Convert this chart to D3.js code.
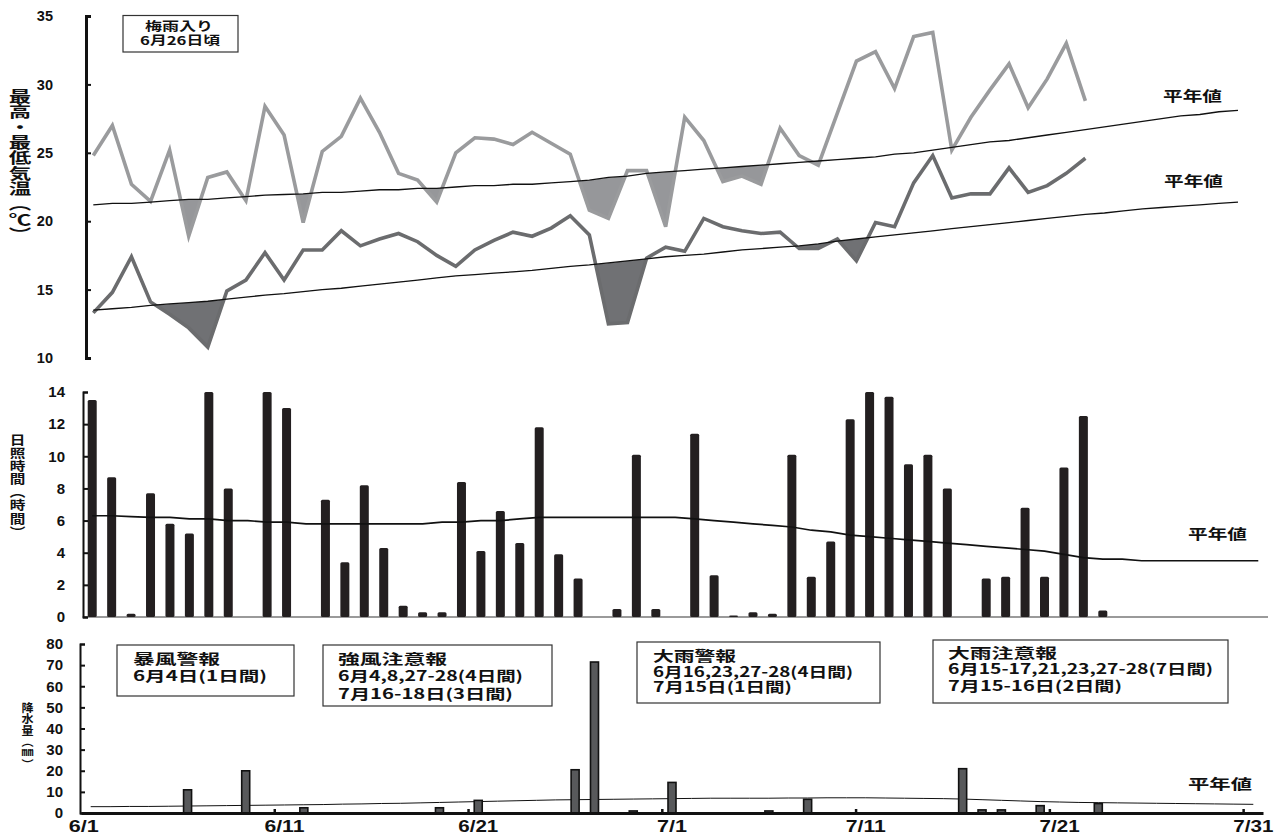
<!DOCTYPE html>
<html>
<head>
<meta charset="utf-8">
<script src="https://cdn.jsdelivr.net/npm/d3@7"></script>
<style>
  body { margin: 0; background: #fff; }
  svg { display: block; }
</style>
</head>
<body>
<svg id="chart" width="1283" height="836"></svg>
<script>
// ---- data -------------------------------------------------------------
// 6/1 .. 7/31 (61 days)
const days = [
  ...d3.range(1, 31).map(d => "6/" + d),
  ...d3.range(1, 32).map(d => "7/" + d)
];
const xTickLabels = ["6/1", "6/11", "6/21", "7/1", "7/11", "7/21", "7/31"];

// daily maximum temperature (°C), observed through 7/23
const maxTemp = [
  24.8, 27.0, 22.7, 21.45, 25.2, 18.9, 23.2, 23.6, 21.5, 28.4,
  26.3, 19.9, 25.1, 26.2, 29.0, 26.5, 23.5, 23.0, 21.4, 25.0,
  26.1, 26.0, 25.6, 26.5, 25.7, 24.9, 20.8, 20.2, 23.7, 23.7,
  19.6, 27.6, 25.9, 22.9, 23.3, 22.7, 26.8, 24.8, 24.1, 27.9,
  31.7, 32.4, 29.7, 33.5, 33.8, 25.2, 27.6, 29.6, 31.5, 28.3,
  30.4, 33.0, 28.8
];
// daily minimum temperature (°C)
const minTemp = [
  13.3, 14.8, 17.4, 14.1, 13.2, 12.2, 10.8, 14.9, 15.7, 17.7,
  15.7, 17.9, 17.9, 19.3, 18.2, 18.7, 19.1, 18.5, 17.5, 16.7,
  17.9, 18.6, 19.2, 18.9, 19.5, 20.4, 19.0, 12.5, 12.6, 17.3,
  18.1, 17.8, 20.2, 19.6, 19.3, 19.1, 19.2, 18.0, 18.0, 18.7,
  17.1, 19.9, 19.6, 22.8, 24.8, 21.7, 22.0, 22.0, 23.9, 22.1,
  22.6, 23.5, 24.6
];
// normal maximum / minimum temperature (°C)
const maxNormal = [
  21.2, 21.3, 21.3, 21.4, 21.5, 21.6, 21.6, 21.7, 21.8, 21.9,
  21.95, 22.0, 22.1, 22.1, 22.2, 22.3, 22.3, 22.4, 22.4, 22.5,
  22.6, 22.6, 22.7, 22.7, 22.8, 22.9, 23.0, 23.2, 23.3, 23.5,
  23.6, 23.7, 23.8, 23.9, 24.0, 24.1, 24.2, 24.3, 24.4, 24.5,
  24.6, 24.7, 24.9, 25.0, 25.2, 25.4, 25.6, 25.8, 25.9, 26.1,
  26.3, 26.5, 26.7, 26.9, 27.1, 27.3, 27.5, 27.7, 27.8, 28.0, 28.1
];
const minNormal = [
  13.5, 13.6, 13.7, 13.85, 13.95, 14.05, 14.15, 14.3, 14.45, 14.6,
  14.7, 14.85, 15.0, 15.1, 15.25, 15.4, 15.55, 15.7, 15.85, 16.0,
  16.1, 16.2, 16.3, 16.4, 16.55, 16.7, 16.8, 16.95, 17.1, 17.25,
  17.4, 17.5, 17.6, 17.75, 17.9, 18.0, 18.1, 18.2, 18.35, 18.55,
  18.7, 18.85, 19.0, 19.15, 19.3, 19.45, 19.6, 19.75, 19.9, 20.05,
  20.2, 20.35, 20.5, 20.6, 20.75, 20.9, 21.0, 21.1, 21.2, 21.3, 21.4
];

// daily sunshine duration (hours)
const sunshine = [
  13.5, 8.7, 0.2, 7.7, 5.8, 5.2, 14.0, 8.0, 0, 14.0,
  13.0, 0, 7.3, 3.4, 8.2, 4.3, 0.7, 0.3, 0.3, 8.4,
  4.1, 6.6, 4.6, 11.8, 3.9, 2.4, 0, 0.5, 10.1, 0.5,
  0, 11.4, 2.6, 0.1, 0.3, 0.2, 10.1, 2.5, 4.7, 12.3,
  14.0, 13.7, 9.5, 10.1, 8.0, 0, 2.4, 2.5, 6.8, 2.5,
  9.3, 12.5, 0.4
];
const sunshineNormal = [
  6.3, 6.3, 6.25, 6.2, 6.2, 6.1, 6.1, 6.0, 6.0, 5.9,
  5.9, 5.8, 5.8, 5.8, 5.8, 5.8, 5.8, 5.8, 5.9, 5.9,
  6.0, 6.0, 6.1, 6.2, 6.2, 6.2, 6.2, 6.2, 6.2, 6.2,
  6.2, 6.1, 6.0, 5.9, 5.8, 5.7, 5.6, 5.4, 5.3, 5.1,
  5.0, 4.9, 4.8, 4.7, 4.6, 4.5, 4.4, 4.3, 4.2, 4.1,
  3.9, 3.7, 3.6, 3.6, 3.5, 3.5, 3.5, 3.5, 3.5, 3.5, 3.5
];

// daily precipitation (mm)
const precip = [
  0, 0, 0, 0, 0, 10.5, 0, 0, 19.5, 0,
  0, 2.0, 0, 0, 0, 0, 0, 0, 2.0, 0,
  5.5, 0, 0, 0, 0, 20.0, 71.0, 0, 0.5, 0,
  14.0, 0, 0, 0, 0, 0.5, 0, 6.0, 0, 0,
  0, 0, 0, 0, 0, 20.5, 1.0, 1.0, 0, 3.0,
  0, 0, 4.0
];
const precipNormal = [
  3.0, 3.0, 3.1, 3.1, 3.2, 3.3, 3.4, 3.5, 3.6, 3.7,
  3.8, 3.9, 4.0, 4.2, 4.3, 4.5, 4.6, 4.8, 5.0, 5.2,
  5.4, 5.6, 5.8, 6.0, 6.2, 6.3, 6.4, 6.5, 6.6, 6.7,
  6.8, 6.9, 7.0, 7.0, 7.0, 7.0, 7.1, 7.1, 7.2, 7.2,
  7.2, 7.1, 7.0, 6.9, 6.8, 6.6, 6.3, 6.0, 5.7, 5.4,
  5.2, 5.0, 4.9, 4.8, 4.7, 4.6, 4.5, 4.4, 4.3, 4.2, 4.1
];

// weather warnings / advisories shown in the lower panel
const notices = [
  { title: "暴風警報", lines: ["6月4日(1日間)"] },
  { title: "強風注意報", lines: ["6月4,8,27-28(4日間)", "7月16-18日(3日間)"] },
  { title: "大雨警報", lines: ["6月16,23,27-28(4日間)", "7月15日(1日間)"] },
  { title: "大雨注意報", lines: ["6月15-17,21,23,27-28(7日間)", "7月15-16日(2日間)"] }
];
const rainySeason = ["梅雨入り", "6月26日頃"];

// ---- setup ------------------------------------------------------------
const JP = "'Noto Sans CJK JP', 'Noto Sans', sans-serif";
const NUM = "'Liberation Sans', Arial, sans-serif";
const svg = d3.select("#chart");
const idx = d3.range(days.length);

const xT = d3.scalePoint().domain(days).range([93.3, 1238]);
const yT = d3.scaleLinear().domain([10, 35]).range([358, 16]);
const xS = d3.scaleBand().domain(days).range([82.5, 1268]);
const yS = d3.scaleLinear().domain([0, 14]).range([617, 392]);
const xP = d3.scaleBand().domain(days).range([81, 1263]);
const yP = d3.scaleLinear().domain([0, 80]).range([813, 644]);

// single line of text with a fixed width (glyphs stretched horizontally)
function fitText(g, str, x, y, size, width) {
  return g.append("text")
    .attr("x", x).attr("y", y)
    .attr("font-family", JP).attr("font-weight", "bold")
    .attr("font-size", size).attr("fill", "#111")
    .attr("textLength", width).attr("lengthAdjust", "spacingAndGlyphs")
    .text(str);
}

// multi-line block: one text element, one tspan per line
function textBlock(g, lines, xs, ys, size, widths) {
  const t = g.append("text")
    .attr("font-family", JP).attr("font-weight", "bold")
    .attr("font-size", size).attr("fill", "#111");
  lines.forEach((s, j) => {
    t.append("tspan")
      .attr("x", Array.isArray(xs) ? xs[j] : xs).attr("y", ys[j])
      .attr("textLength", widths[j]).attr("lengthAdjust", "spacingAndGlyphs")
      .text(s);
  });
  return t;
}

// vertical axis title set in vertical writing mode, glyphs widened by sx
function verticalTitle(str, cx, top, size, spacing, sx) {
  svg.append("text")
    .attr("transform", `translate(${cx},${top}) scale(${sx},1)`)
    .style("writing-mode", "vertical-rl")
    .style("letter-spacing", spacing + "px")
    .attr("font-family", JP).attr("font-weight", "bold")
    .attr("font-size", size).attr("fill", "#111")
    .text(str);
}

function styleAxis(g, domainWidth, tickWidth, fontSize) {
  g.select(".domain").attr("stroke", "#111").attr("stroke-width", domainWidth);
  g.selectAll(".tick line").attr("stroke", "#111").attr("stroke-width", tickWidth);
  g.selectAll(".tick text")
    .attr("font-family", NUM).attr("font-weight", "bold")
    .attr("font-size", fontSize).attr("fill", "#111");
}

// ---- panel 1: max / min temperature -----------------------------------
const tempPanel = svg.append("g");
const defs = svg.append("defs");

// region below a normal curve; used to keep only the below-normal shading
function belowNormalClip(id, normal) {
  defs.append("clipPath").attr("id", id).append("path")
    .attr("d", d3.area()
      .x(i => xT(days[i]))
      .y0(yT(0))
      .y1(i => yT(normal[i]))(idx));
}
belowNormalClip("clip-max", maxNormal);
belowNormalClip("clip-min", minNormal);

function tempSeries(values, normal, color, fillColor, clipId) {
  const defined = i => i < values.length && values[i] != null;
  tempPanel.append("path")
    .attr("clip-path", `url(#${clipId})`)
    .attr("fill", fillColor)
    .attr("d", d3.area().defined(defined)
      .x(i => xT(days[i]))
      .y0(i => yT(normal[i]))
      .y1(i => yT(values[i]))(idx));
  tempPanel.append("path")
    .attr("fill", "none")
    .attr("stroke", color)
    .attr("stroke-width", 3.6)
    .attr("d", d3.line().defined(defined)
      .x(i => xT(days[i]))
      .y(i => yT(values[i]))(idx));
}
tempSeries(maxTemp, maxNormal, "#9a9b9d", "#96979a", "clip-max");
tempSeries(minTemp, minNormal, "#6b6c6e", "#707174", "clip-min");

[maxNormal, minNormal].forEach(normal => {
  tempPanel.append("path")
    .attr("fill", "none").attr("stroke", "#111").attr("stroke-width", 1.3)
    .attr("d", d3.line().x(i => xT(days[i])).y(i => yT(normal[i]))(idx));
});

const tempAxis = svg.append("g").attr("transform", "translate(86,0)")
  .call(d3.axisLeft(yT).tickValues([10, 15, 20, 25, 30, 35])
    .tickSizeInner(-5).tickSizeOuter(-5).tickPadding(33));
styleAxis(tempAxis, 3, 2, 14.5);

fitText(svg, "平年値", 1163, 101, 14, 59);
fitText(svg, "平年値", 1164, 186, 14, 59);

// rainy season onset note
svg.append("rect").attr("x", 123).attr("y", 15.5).attr("width", 115).attr("height", 36.5)
  .attr("fill", "#fff").attr("stroke", "#333").attr("stroke-width", 1.2);
textBlock(svg, rainySeason, [145, 140], [31, 44.5], 12, [68, 80]);

verticalTitle("最高・最低気温（℃）", 20, 89, 15, 0.3, 1.5);

// ---- panel 2: sunshine duration ---------------------------------------
const sunPanel = svg.append("g");
sunPanel.append("line")
  .attr("x1", xS.range()[0]).attr("x2", xS.range()[1])
  .attr("y1", yS(0)).attr("y2", yS(0))
  .attr("stroke", "#9a9a9a").attr("stroke-width", 2);

const sunBarW = 9;
sunPanel.selectAll("rect.sun")
  .data(idx.filter(i => sunshine[i] != null && sunshine[i] > 0))
  .join("rect")
  .attr("class", "sun")
  .attr("x", i => xS(days[i]) + xS.bandwidth() / 2 - sunBarW / 2)
  .attr("y", i => yS(sunshine[i]))
  .attr("width", sunBarW)
  .attr("height", i => yS(0) - yS(sunshine[i]))
  .attr("rx", 1.5)
  .attr("fill", "#231f20");

sunPanel.append("path")
  .attr("fill", "none").attr("stroke", "#111").attr("stroke-width", 1.7)
  .attr("d", d3.line()
    .x(i => xS(days[i]) + xS.bandwidth() / 2)
    .y(i => yS(sunshineNormal[i]))(idx));

const sunAxis = svg.append("g").attr("transform", "translate(83,0)")
  .call(d3.axisLeft(yS).tickValues(d3.range(0, 15, 2))
    .tickSizeInner(-5).tickSizeOuter(-5).tickPadding(18));
styleAxis(sunAxis, 2, 2, 15);

fitText(svg, "平年値", 1188, 539, 14, 59);

verticalTitle("日照時間（時間）", 17.5, 434, 12.5, 0.6, 1.25);

// ---- panel 3: precipitation -------------------------------------------
const rainPanel = svg.append("g");

// notice boxes
const noticeBoxes = [
  { x: 117, y: 645, w: 177, h: 51, tx: 133, base: [664, 681], widths: [87, 134] },
  { x: 323, y: 645, w: 229, h: 61, tx: 338, base: [664, 681, 699], widths: [109, 185, 175] },
  { x: 637, y: 642, w: 243, h: 61, tx: 653, base: [661, 677, 692], widths: [83, 200, 139] },
  { x: 933, y: 640, w: 295, h: 63, tx: 948, base: [658, 674, 691], widths: [109, 265, 174] }
];
notices.forEach((n, k) => {
  const b = noticeBoxes[k];
  rainPanel.append("rect").attr("x", b.x).attr("y", b.y).attr("width", b.w).attr("height", b.h)
    .attr("fill", "#fff").attr("stroke", "#333").attr("stroke-width", 1.2);
  textBlock(rainPanel, [n.title, ...n.lines], b.tx, b.base, 14, b.widths);
});

rainPanel.append("path")
  .attr("fill", "none").attr("stroke", "#111").attr("stroke-width", 1)
  .attr("d", d3.line()
    .x(i => xP(days[i]) + xP.bandwidth() / 2)
    .y(i => yP(precipNormal[i]))(idx));

const rainBarW = 8;
rainPanel.selectAll("rect.rain")
  .data(idx.filter(i => precip[i] != null && precip[i] > 0))
  .join("rect")
  .attr("class", "rain")
  .attr("x", i => xP(days[i]) + xP.bandwidth() / 2 - rainBarW / 2)
  .attr("y", i => yP(precip[i]) - 1)
  .attr("width", rainBarW)
  .attr("height", i => yP(0) - yP(precip[i]) + 1)
  .attr("fill", "#58595b")
  .attr("stroke", "#111").attr("stroke-width", 1.6);

const rainAxis = svg.append("g").attr("transform", "translate(80,0)")
  .call(d3.axisLeft(yP).tickValues(d3.range(0, 81, 10))
    .tickSizeInner(-5).tickSizeOuter(-5).tickPadding(17));
styleAxis(rainAxis, 2, 2, 15);

// date axis along the bottom: ticks at the start of each labelled day
const dayAxis = svg.append("g").attr("transform", `translate(0,${yP(0)})`)
  .call(d3.axisBottom(xP).tickValues(xTickLabels)
    .tickSizeInner(-4).tickSizeOuter(0).tickPadding(8));
dayAxis.selectAll(".tick").attr("transform", d => `translate(${xP(d)},0)`);
dayAxis.select(".domain").attr("stroke", "#111").attr("stroke-width", 3);
dayAxis.selectAll(".tick line").attr("stroke", "#111").attr("stroke-width", 2.5);
dayAxis.selectAll(".tick text")
  .attr("x", d => d === "6/1" ? xP.bandwidth() / 2 - 7 : xP.bandwidth() / 2)
  .attr("font-family", NUM).attr("font-weight", "bold")
  .attr("font-size", 16).attr("fill", "#111")
  .attr("textLength", d => d.length * 10)
  .attr("lengthAdjust", "spacingAndGlyphs");
dayAxis.selectAll(".tick").filter(d => d === "6/1").select("line").remove();

fitText(svg, "平年値", 1188, 789, 14, 64);

verticalTitle("降水量（㎜）", 27.5, 702, 11.5, -0.2, 1.05);
</script>
</body>
</html>
